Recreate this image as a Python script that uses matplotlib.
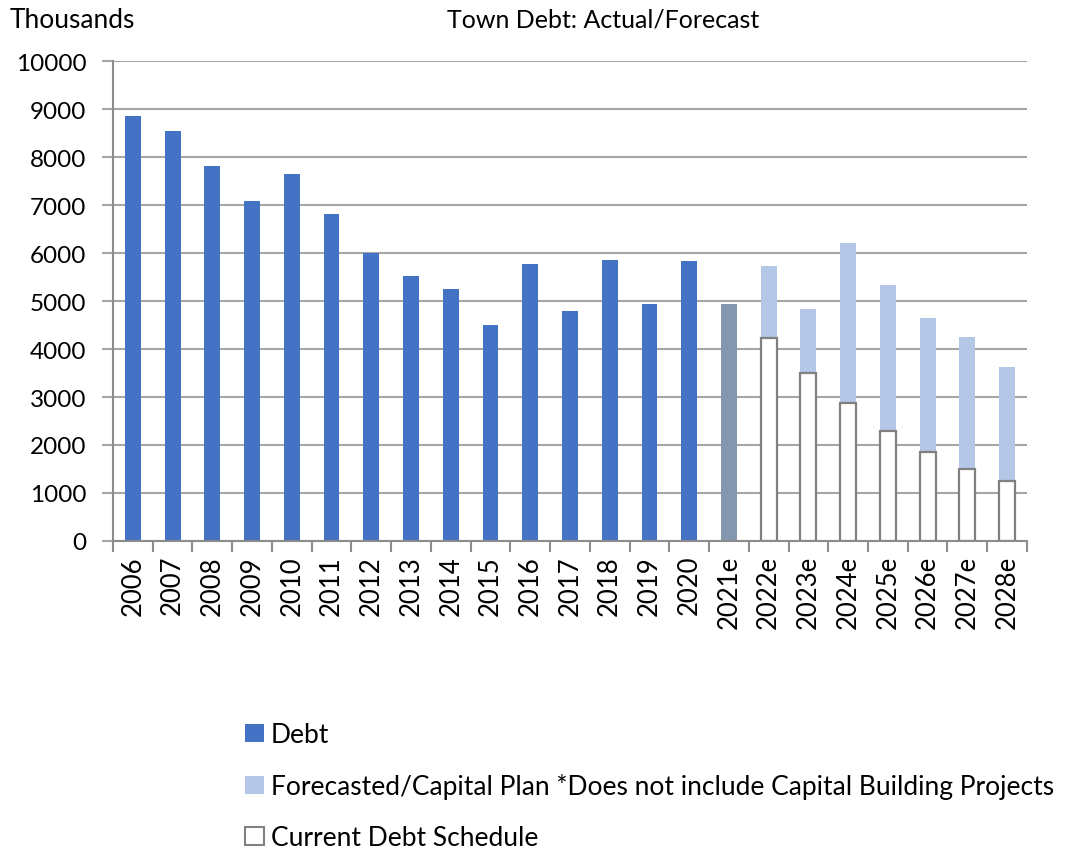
import matplotlib.pyplot as plt
import numpy as np
from matplotlib.patches import Patch

plt.rcParams['font.family'] = ['Lato', 'DejaVu Sans']

# Datos (miles)
years = ['2006', '2007', '2008', '2009', '2010', '2011', '2012', '2013', '2014',
         '2015', '2016', '2017', '2018', '2019', '2020', '2021e']
debt = [8850, 8540, 7810, 7090, 7650, 6810, 5990, 5520, 5240,
        4490, 5770, 4790, 5850, 4930, 5830, 4940]
forecast_years = ['2022e', '2023e', '2024e', '2025e', '2026e', '2027e', '2028e']
forecast = [5730, 4830, 6200, 5340, 4640, 4260, 3625]
schedule = [4220, 3510, 2880, 2290, 1850, 1510, 1240]

labels = years + forecast_years
dark = '#4472C4'
est = '#8497B0'
light = '#B4C7E7'
edge = '#808080'

fig = plt.figure(figsize=(10.72, 8.53), dpi=100)
ax = fig.add_axes([0.1054, 0.3646, 0.8526, 0.5627])

x_hist = np.arange(len(years))
x_fc = np.arange(len(years), len(labels))
w = 0.4

colors = [dark] * (len(years) - 1) + [est]
ax.bar(x_hist, debt, width=w, color=colors, zorder=3)
ax.bar(x_fc, forecast, width=w, color=light, zorder=3)
ax.bar(x_fc, schedule, width=w, color='white', edgecolor=edge, linewidth=1.6, zorder=4)

ax.set_xlim(-0.5, len(labels) - 0.5)
ax.set_ylim(0, 10000)
ax.set_yticks(np.arange(0, 10001, 1000))
ax.set_xticks(np.arange(len(labels)))
ax.set_xticklabels(labels, rotation=90)
ax.set_xticks(np.arange(-0.5, len(labels), 1), minor=True)
ax.tick_params(axis='x', which='major', length=0, pad=10, labelsize=18.5)
ax.tick_params(axis='x', which='minor', length=8, width=1.5, color='#8C8C8C')
ax.tick_params(axis='y', length=8, width=1.5, color='#A6A6A6', labelsize=17.5, pad=11)

ax.grid(axis='y', color='#A6A6A6', linewidth=1.5, zorder=0)
for s in ['top', 'right']:
    ax.spines[s].set_visible(False)
ax.spines['left'].set_color('#8C8C8C')
ax.spines['left'].set_linewidth(1.5)
ax.spines['bottom'].set_color('#8C8C8C')
ax.spines['bottom'].set_linewidth(1.5)
ax.spines['bottom'].set_zorder(5)

fig.text(10 / 1072, 1 - 20 / 853, 'Thousands', fontsize=19, va='center', ha='left')
fig.text(603 / 1072, 1 - 20 / 853, 'Town Debt: Actual/Forecast', fontsize=18, va='center', ha='center')

handles = [Patch(facecolor=dark),
           Patch(facecolor=light),
           Patch(facecolor='white', edgecolor=edge, linewidth=1.5)]
names = ['Debt',
         'Forecasted/Capital Plan *Does not include Capital Building Projects',
         'Current Debt Schedule']
fig.legend(handles, names, loc='upper left', bbox_to_anchor=(227 / 1072, 1 - 705 / 853),
           frameon=False, fontsize=19, handlelength=0.7, handleheight=0.7,
           handletextpad=0.25, labelspacing=0.98, borderpad=0.2)

fig.savefig('out.png', dpi=100)
